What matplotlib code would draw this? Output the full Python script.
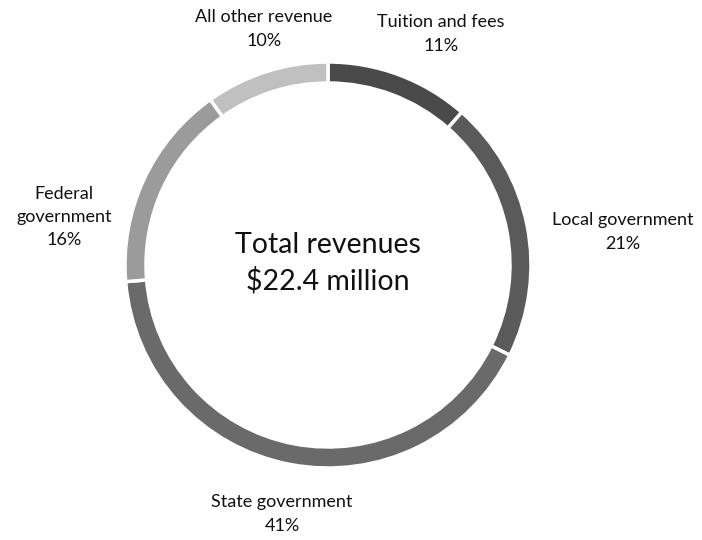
import matplotlib
matplotlib.use("Agg")
import matplotlib.pyplot as plt

categories = ["Tuition and fees", "Local government", "State government",
              "Federal\ngovernment", "All other revenue"]
shares = [11.4, 20.8, 41.2, 16.4, 9.8]
pct_labels = ["11%", "21%", "41%", "16%", "10%"]
center_title = "Total revenues\n$22.4 million"

colors = ["#4a4a4a", "#5a5a5a", "#6a6a6a", "#9b9b9b", "#c0c0c0"]

W, H = 702, 540
fig = plt.figure(figsize=(W / 100, H / 100), dpi=100)
ax = fig.add_axes([0, 0, 1, 1])

cx, cy, R = 328, H - 265, 203
ax.pie(shares, colors=colors, startangle=90, counterclock=False,
       center=(cx, cy), radius=R, frame=True,
       wedgeprops=dict(width=21, edgecolor="white", linewidth=2.5))
ax.set_xlim(0, W)
ax.set_ylim(0, H)
ax.set_aspect("equal")
ax.axis("off")

font = "Lato"
# label anchor positions (pixel coords, top-left origin)
label_pos = [(441, 34), (623, 232), (282, 514), (64, 217), (264, 29)]
for cat, p, (x, y) in zip(categories, pct_labels, label_pos):
    ax.text(x, H - y, f"{cat}\n{p}", ha="center", va="center",
            fontsize=13, family=font, color="#111111", linespacing=1.55)

ax.text(cx, H - 263, center_title, ha="center", va="center",
        fontsize=20.5, family=font, color="#111111", linespacing=1.4)

fig.savefig("out.png", dpi=100)
